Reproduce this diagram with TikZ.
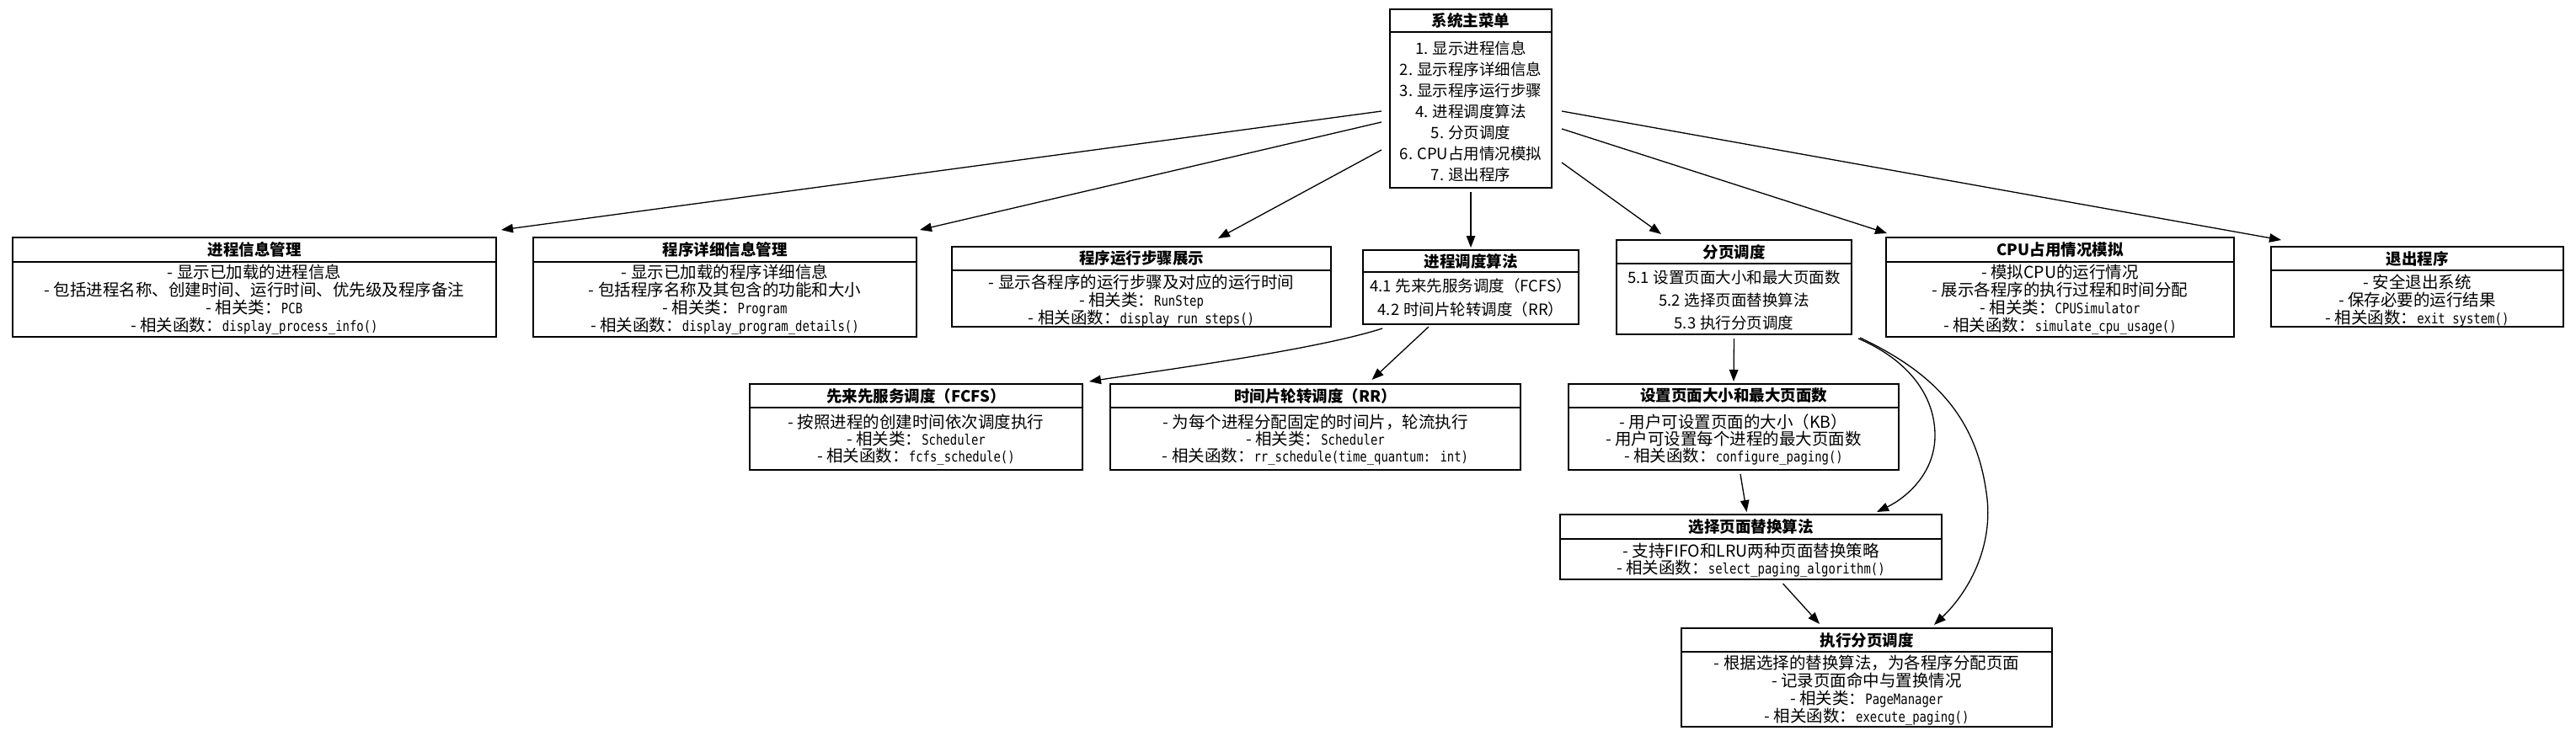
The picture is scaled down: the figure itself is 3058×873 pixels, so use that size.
\documentclass[tikz,border=0pt]{standalone}
\usepackage{fontspec}
\setmainfont{Noto Sans CJK SC}
\newfontfamily\codef[FakeStretch=0.82]{DejaVu Sans Mono}
\usetikzlibrary{arrows.meta,calc}
\newcommand{\cd}[1]{{\codef\fontsize{17pt}{\baselineskip}\selectfont #1}}
\newcommand{\gp}{\hspace{5pt}}
\tikzset{
  recbox/.style={draw, line width=1.4pt, inner sep=0pt, outer sep=0pt},
  recline/.style={line width=1.4pt},
  ttl/.style={inner sep=0pt, font=\fontsize{18.5}{20}\selectfont\bfseries},
  body/.style={align=center, inner sep=0pt, font=\fontsize{19.5}{#1}\selectfont},
  menu/.style={align=center, inner sep=0pt, font=\fontsize{18.5}{#1}\selectfont},
  arr/.style={-{Triangle[length=14pt,width=10.5pt]}, line width=1.3pt}
}
\newcommand{\rec}[7]{%
  \node[recbox, minimum width={#3-#2}, minimum height={#6-#4}] (#1) at ({(#2+#3)/2},{(#4+#6)/2}) {};
  \draw[recline] (#1.west |- 0,#5) -- (#1.east |- 0,#5);
  \node[ttl] (#1t) at ({(#2+#3)/2},{(#4+#5)/2}) {#7};
}
\begin{document}
\begin{tikzpicture}[x=1pt,y=-1pt]
\fill[white] (0,0) rectangle (3058,873);
\useasboundingbox (0,0) rectangle (3058,873);

% main menu
\rec{m}{1650}{1842}{11}{38}{223}{系统主菜单}
\node[menu=25] (mb) at (1746,132) {1.\gp 显示进程信息\\2.\gp 显示程序详细信息\\3.\gp 显示程序运行步骤\\4.\gp 进程调度算法\\5.\gp 分页调度\\6.\gp CPU占用情况模拟\\7.\gp 退出程序};

% row 1
\rec{b1}{15}{589}{282}{311}{400}{进程信息管理}
\node[body=21] (b1b) at (b1 |- 0,356) {- 显示已加载的进程信息\\- 包括进程名称、创建时间、运行时间、优先级及程序备注\\- 相关类：\cd{PCB}\\- 相关函数：\cd{display\_process\_info()}};

\rec{b2}{633}{1088}{282}{311}{400}{程序详细信息管理}
\node[body=21] (b2b) at (b2 |- 0,356) {- 显示已加载的程序详细信息\\- 包括程序名称及其包含的功能和大小\\- 相关类：\cd{Program}\\- 相关函数：\cd{display\_program\_details()}};

\rec{b3}{1130}{1580}{293}{321}{388}{程序运行步骤展示}
\node[body=21] (b3b) at (b3 |- 0,357) {- 显示各程序的运行步骤及对应的运行时间\\- 相关类：\cd{RunStep}\\- 相关函数：\cd{display\_run\_steps()}};

\rec{b4}{1618}{1874}{297}{323}{385}{进程调度算法}
\node[menu=28] (b4b) at (b4 |- 0,353) {4.1\gp 先来先服务调度（FCFS）\\4.2\gp 时间片轮转调度（RR）};

\rec{b5}{1919}{2198}{285}{313}{397}{分页调度}
\node[menu=27] (b5b) at (b5 |- 0,356) {5.1\gp 设置页面大小和最大页面数\\5.2\gp 选择页面替换算法\\5.3\gp 执行分页调度};

\rec{b6}{2239}{2652}{282}{311}{400}{CPU占用情况模拟}
\node[body=21] (b6b) at (b6 |- 0,356) {- 模拟CPU的运行情况\\- 展示各程序的执行过程和时间分配\\- 相关类：\cd{CPUSimulator}\\- 相关函数：\cd{simulate\_cpu\_usage()}};

\rec{b7}{2696}{3043}{293}{321}{388}{退出程序}
\node[body=21] (b7b) at (b7 |- 0,357) {- 安全退出系统\\- 保存必要的运行结果\\- 相关函数：\cd{exit\_system()}};

% row 2
\rec{b8}{890}{1285}{456}{484}{558}{先来先服务调度（FCFS）}
\node[body=20] (b8b) at (b8 |- 0,522) {- 按照进程的创建时间依次调度执行\\- 相关类：\cd{Scheduler}\\- 相关函数：\cd{fcfs\_schedule()}};

\rec{b9}{1318}{1805}{456}{484}{558}{时间片轮转调度（RR）}
\node[body=20] (b9b) at (b9 |- 0,522) {- 为每个进程分配固定的时间片，轮流执行\\- 相关类：\cd{Scheduler}\\- 相关函数：\cd{rr\_schedule(time\_quantum: int)}};

\rec{b10}{1862}{2254}{456}{484}{558}{设置页面大小和最大页面数}
\node[body=20] (b10b) at (b10 |- 0,522) {- 用户可设置页面的大小（KB）\\- 用户可设置每个进程的最大页面数\\- 相关函数：\cd{configure\_paging()}};

\rec{b11}{1852}{2305}{611}{640}{688}{选择页面替换算法}
\node[body=20] (b11b) at (b11 |- 0,665) {- 支持FIFO和LRU两种页面替换策略\\- 相关函数：\cd{select\_paging\_algorithm()}};

\rec{b12}{1996}{2436}{746}{774}{863}{执行分页调度}
\node[body=21] (b12b) at (b12 |- 0,820) {- 根据选择的替换算法，为各程序分配页面\\- 记录页面命中与置换情况\\- 相关类：\cd{PageManager}\\- 相关函数：\cd{execute\_paging()}};

% connectors from main menu
\draw[arr] ($(m.west)+(-10,15)$) -- ($(b1.north east)+(6,-9)$);
\draw[arr] ($(m.west)+(-10,28)$) -- ($(b2.north east)+(4,-9)$);
\draw[arr] ($(m.west)+(-10,61)$) -- ($(b3.north)+(91,-10)$);
\draw[arr] ($(m.south)+(0,5)$) -- ($(b4.north)+(0,-3)$);
\draw[arr] ($(m.east)+(12,76)$) -- ($(b5.north west)+(53,-7)$);
\draw[arr] ($(m.east)+(12,36)$) -- ($(b6.north west)+(1,-5)$);
\draw[arr] ($(m.east)+(12,15)$) -- ($(b7.north west)+(12,-8)$);

% scheduling
\draw[arr] ($(b4.south west)+(23,5)$) .. controls (1560,416) and (1376,440) .. ($(b8.north east)+(8,-3)$);
\draw[arr] ($(b4.south west)+(78,3)$) -- ($(b9.north)+(67,-5)$);

% paging
\draw[arr] ($(b5.south)+(0,5)$) -- ($(b10.north)+(0,-3)$);
\draw[arr] ($(b10.south)+(8,5)$) -- ($(b11.north)+(-5,-3)$);
\draw[arr] ($(b5.south east)+(8,5)$) .. controls (2260,425) and (2296,465) .. (2297,515) .. controls (2298,560) and (2265,590) .. ($(b11.north east)+(-77,-3)$);
\draw[arr] ($(b5.south east)+(10,4)$) .. controls (2290,440) and (2345,490) .. (2358,585) .. controls (2368,650) and (2335,705) .. ($(b12.north)+(80,-4)$);
\draw[arr] ($(b11.south)+(38,5)$) -- ($(b12.north)+(-56,-5)$);
\end{tikzpicture}
\end{document}
